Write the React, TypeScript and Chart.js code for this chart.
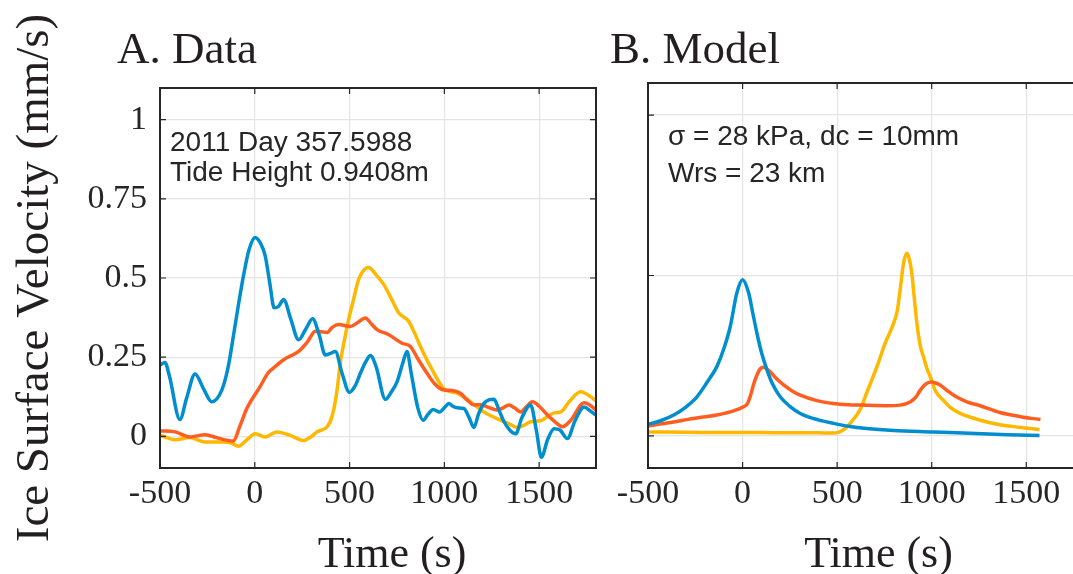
import React, { useEffect, useRef } from "react";
import { Chart, registerables } from "chart.js";

Chart.register(...registerables);

// ---------- axes ----------
const X_MIN = -500;
const X_MAX = 1800;
const Y_MIN = -0.1;
const Y_MAX = 1.1;
const X_TICKS = [-500, 0, 500, 1000, 1500];
const X_TICK_LABELS = ["-500", "0", "500", "1000", "1500"];
const Y_TICKS_A = [0, 0.25, 0.5, 0.75, 1];
const Y_TICK_LABELS_A = ["0", "0.25", "0.5", "0.75", "1"];
const Y_TICKS_B = [0, 0.5, 1];

// ---------- A. Data ----------
const dataBlueT = [-500, -474, -450, -395, -360, -315, -270, -227, -174, -140, -113, -85, -60, -30, 2, 30, 55, 80, 102, 125, 152, 190, 231, 270, 305, 340, 372, 400, 425, 460, 499, 530, 557, 585, 610, 640, 689, 720, 751, 780, 803, 825, 860, 888, 915, 941, 976, 1000, 1024, 1045, 1068, 1103, 1130, 1156, 1180, 1209, 1235, 1262, 1290, 1315, 1345, 1376, 1410, 1455, 1485, 1512, 1545, 1579, 1610, 1649, 1690, 1737, 1770, 1800];
const dataBlueV = [0.225, 0.233, 0.19, 0.053, 0.12, 0.197, 0.15, 0.109, 0.146, 0.22, 0.316, 0.42, 0.506, 0.59, 0.628, 0.61, 0.57, 0.48, 0.406, 0.41, 0.432, 0.37, 0.305, 0.34, 0.371, 0.32, 0.257, 0.262, 0.268, 0.2, 0.139, 0.16, 0.199, 0.235, 0.255, 0.22, 0.117, 0.14, 0.173, 0.23, 0.268, 0.2, 0.09, 0.051, 0.07, 0.085, 0.077, 0.09, 0.104, 0.095, 0.09, 0.088, 0.06, 0.028, 0.07, 0.104, 0.115, 0.117, 0.08, 0.046, 0.02, 0.008, 0.06, 0.099, 0.02, -0.066, -0.01, 0.024, 0.02, -0.007, 0.05, 0.093, 0.08, 0.067];

const dataOrangeT = [-500, -421, -342, -263, -201, -150, -113, -80, -42, 28, 70, 107, 152, 231, 280, 319, 350, 381, 410, 442, 504, 545, 583, 615, 645, 707, 777, 821, 860, 909, 950, 997, 1040, 1085, 1120, 1156, 1190, 1226, 1279, 1310, 1341, 1370, 1403, 1435, 1465, 1500, 1544, 1585, 1623, 1667, 1737, 1765, 1800];
const dataOrangeV = [0.017, 0.014, -0.002, 0.005, -0.004, -0.012, -0.015, 0.03, 0.088, 0.157, 0.2, 0.22, 0.242, 0.268, 0.3, 0.332, 0.33, 0.328, 0.345, 0.353, 0.347, 0.36, 0.374, 0.355, 0.337, 0.321, 0.294, 0.284, 0.245, 0.199, 0.165, 0.146, 0.145, 0.136, 0.115, 0.099, 0.1, 0.093, 0.083, 0.09, 0.099, 0.09, 0.077, 0.095, 0.109, 0.095, 0.067, 0.045, 0.03, 0.051, 0.106, 0.1, 0.083];

const dataYellowT = [-500, -460, -421, -342, -263, -166, -120, -86, -40, 2, 55, 116, 187, 257, 300, 328, 381, 400, 416, 435, 451, 475, 495, 520, 548, 575, 601, 640, 680, 720, 759, 812, 840, 874, 927, 997, 1068, 1100, 1138, 1209, 1297, 1340, 1385, 1420, 1455, 1508, 1550, 1579, 1614, 1660, 1719, 1760, 1800];
const dataYellowV = [0.003, -0.005, -0.011, -0.004, -0.018, -0.018, -0.022, -0.031, -0.01, 0.008, -0.002, 0.014, 0.003, -0.013, 0.0, 0.014, 0.03, 0.05, 0.083, 0.15, 0.231, 0.31, 0.369, 0.43, 0.496, 0.525, 0.533, 0.51, 0.48, 0.435, 0.39, 0.363, 0.33, 0.284, 0.22, 0.151, 0.136, 0.125, 0.109, 0.077, 0.051, 0.04, 0.028, 0.035, 0.046, 0.049, 0.065, 0.074, 0.077, 0.11, 0.141, 0.13, 0.112];

// ---------- B. Model ----------
const modelBlueT = [-500, -430, -364, -300, -241, -190, -136, -100, -65, -30, 0, 32, 55, 76, 100, 129, 160, 199, 250, 305, 400, 481, 560, 657, 800, 1009, 1200, 1400, 1570];
const modelBlueV = [0.036, 0.048, 0.065, 0.09, 0.122, 0.165, 0.216, 0.27, 0.341, 0.446, 0.487, 0.446, 0.38, 0.32, 0.26, 0.206, 0.16, 0.122, 0.092, 0.07, 0.05, 0.039, 0.03, 0.023, 0.017, 0.0125, 0.008, 0.004, 0.001];

const modelOrangeT = [-500, -400, -312, -220, -136, -90, -48, 5, 25, 40, 58, 76, 95, 111, 130, 146, 180, 217, 260, 305, 393, 481, 560, 622, 760, 833, 886, 915, 939, 965, 996, 1020, 1044, 1080, 1130, 1186, 1256, 1361, 1470, 1575];
const modelOrangeV = [0.031, 0.04, 0.049, 0.058, 0.065, 0.071, 0.078, 0.091, 0.1, 0.122, 0.16, 0.19, 0.21, 0.214, 0.208, 0.2, 0.178, 0.159, 0.141, 0.127, 0.11, 0.101, 0.097, 0.096, 0.094, 0.096, 0.106, 0.12, 0.142, 0.16, 0.168, 0.165, 0.159, 0.142, 0.122, 0.106, 0.094, 0.073, 0.06, 0.051];

const modelYellowT = [-500, -200, 100, 400, 481, 510, 540, 570, 600, 625, 660, 710, 754, 798, 818, 833, 851, 869, 882, 895, 908, 922, 940, 957, 975, 996, 1020, 1062, 1100, 1151, 1256, 1361, 1460, 1570];
const modelYellowV = [0.0125, 0.011, 0.0104, 0.0095, 0.009, 0.012, 0.022, 0.04, 0.062, 0.086, 0.14, 0.215, 0.289, 0.35, 0.39, 0.454, 0.538, 0.569, 0.55, 0.506, 0.43, 0.35, 0.28, 0.246, 0.21, 0.179, 0.14, 0.111, 0.088, 0.07, 0.049, 0.035, 0.027, 0.02];

// ---------- styles ----------
const BLUE = "#008ECE";
const ORANGE = "#FF5E20";
const YELLOW = "#FFB800";
const INK = "#262626";
const GRID = "#e4e4e4";
const SERIF = "'Liberation Serif', 'Times New Roman', serif";
const SANS = "'Liberation Sans', Arial, sans-serif";

type Series = { t: number[]; v: number[]; color: string };

const framePlugin = {
  id: "frame",
  afterDraw(chart: any, _args: any, o: any) {
    const { ctx, chartArea: a, scales } = chart;
    ctx.save();
    // inward tick marks on all four sides
    ctx.strokeStyle = INK;
    ctx.lineWidth = 1.2;
    const tl = 6;
    ctx.beginPath();
    scales.x.ticks.forEach((t: any) => {
      const px = scales.x.getPixelForValue(t.value);
      ctx.moveTo(px, a.bottom);
      ctx.lineTo(px, a.bottom - tl);
      ctx.moveTo(px, a.top);
      ctx.lineTo(px, a.top + tl);
    });
    scales.y.ticks.forEach((t: any) => {
      const py = scales.y.getPixelForValue(t.value);
      ctx.moveTo(a.left, py);
      ctx.lineTo(a.left + tl, py);
      ctx.moveTo(a.right, py);
      ctx.lineTo(a.right - tl, py);
    });
    ctx.stroke();
    // box
    ctx.lineWidth = 2;
    ctx.strokeRect(a.left, a.top, a.right - a.left, a.bottom - a.top);

    ctx.fillStyle = "#231f20";
    ctx.textBaseline = "alphabetic";
    // panel title
    ctx.font = `45px ${SERIF}`;
    ctx.textAlign = "left";
    ctx.fillText(o.title, a.left + o.titleDx, a.top + o.titleDy);
    // annotation
    ctx.fillStyle = INK;
    ctx.font = `28px ${SANS}`;
    o.notes.forEach((n: string, i: number) => {
      ctx.fillText(n, a.left + o.notesDx, a.top + o.notesDy[i]);
    });
    // x axis title
    ctx.fillStyle = "#231f20";
    ctx.font = `44px ${SERIF}`;
    ctx.textAlign = "center";
    ctx.fillText(o.xTitle, (a.left + a.right) / 2 + o.xTitleDx, a.bottom + o.xTitleDy);
    ctx.restore();
  },
};

function buildConfig(p: {
  series: Series[];
  yTicks: number[];
  yLabels: string[] | null;
  yWidth: number;
  padTop: number;
  padRight: number;
  yTitle: string | null;
  frame: any;
}) {
  return {
    type: "line" as const,
    data: {
      datasets: p.series.map((s) => ({
        data: s.t.map((t, i) => ({ x: t, y: s.v[i] })),
        borderColor: s.color,
        backgroundColor: s.color,
        borderWidth: 3.5,
        pointRadius: 0,
        fill: false,
        cubicInterpolationMode: "monotone" as const,
      })),
    },
    options: {
      responsive: false,
      animation: false as const,
      devicePixelRatio: 1,
      layout: { padding: { left: 0, right: p.padRight, top: p.padTop, bottom: 0 } },
      plugins: {
        legend: { display: false },
        tooltip: { enabled: false },
        frame: p.frame,
      },
      scales: {
        x: {
          type: "linear" as const,
          min: X_MIN,
          max: X_MAX,
          afterBuildTicks: (s: any) => {
            s.ticks = X_TICKS.map((v) => ({ value: v }));
          },
          afterFit: (s: any) => {
            s.height = 106;
          },
          ticks: {
            autoSkip: false,
            maxRotation: 0,
            padding: 6,
            color: INK,
            font: { family: SERIF, size: 34 },
            callback: (v: any) => X_TICK_LABELS[X_TICKS.indexOf(Number(v))] ?? "",
          },
          grid: { color: GRID, lineWidth: 1.2, drawTicks: false },
          border: { display: false },
        },
        y: {
          type: "linear" as const,
          min: Y_MIN,
          max: Y_MAX,
          afterBuildTicks: (s: any) => {
            s.ticks = p.yTicks.map((v) => ({ value: v }));
          },
          afterFit: (s: any) => {
            s.width = p.yWidth;
          },
          ticks: {
            display: !!p.yLabels,
            padding: 13,
            color: INK,
            font: { family: SERIF, size: 34 },
            callback: (v: any) => (p.yLabels ? p.yLabels[p.yTicks.indexOf(Number(v))] ?? "" : ""),
          },
          title: {
            display: !!p.yTitle,
            text: p.yTitle ?? "",
            color: "#231f20",
            font: { family: SERIF, size: 47, lineHeight: 1 },
            padding: { top: 12, bottom: 0 },
          },
          grid: { color: GRID, lineWidth: 1.2, drawTicks: false },
          border: { display: false },
        },
      },
    },
    plugins: [framePlugin],
  };
}

export default function App() {
  const leftRef = useRef<HTMLCanvasElement | null>(null);
  const rightRef = useRef<HTMLCanvasElement | null>(null);

  useEffect(() => {
    const left = new Chart(
      leftRef.current as HTMLCanvasElement,
      buildConfig({
        series: [
          { t: dataBlueT, v: dataBlueV, color: BLUE },
          { t: dataOrangeT, v: dataOrangeV, color: ORANGE },
          { t: dataYellowT, v: dataYellowV, color: YELLOW },
        ],
        yTicks: Y_TICKS_A,
        yLabels: Y_TICK_LABELS_A,
        yWidth: 160,
        padTop: 88,
        padRight: 14,
        yTitle: "Ice Surface Velocity (mm/s)",
        frame: {
          title: "A. Data",
          titleDx: -43,
          titleDy: -25,
          notes: ["2011 Day 357.5988", "Tide Height 0.9408m"],
          notesDx: 10,
          notesDy: [63, 93],
          xTitle: "Time (s)",
          xTitleDx: 14,
          xTitleDy: 99,
        },
      }) as any
    );
    const right = new Chart(
      rightRef.current as HTMLCanvasElement,
      buildConfig({
        series: [
          { t: modelBlueT, v: modelBlueV, color: BLUE },
          { t: modelOrangeT, v: modelOrangeV, color: ORANGE },
          { t: modelYellowT, v: modelYellowV, color: YELLOW },
        ],
        yTicks: Y_TICKS_B,
        yLabels: null,
        yWidth: 48,
        padTop: 83,
        padRight: 17,
        yTitle: null,
        frame: {
          title: "B. Model",
          titleDx: -38,
          titleDy: -20,
          notes: ["σ = 28 kPa, dc = 10mm", "Wrs = 23 km"],
          notesDx: 20,
          notesDy: [62, 99],
          xTitle: "Time (s)",
          xTitleDx: 13,
          xTitleDy: 99,
        },
      }) as any
    );
    return () => {
      left.destroy();
      right.destroy();
    };
  }, []);

  return (
    <div
      style={{
        position: "absolute",
        left: 0,
        top: 0,
        width: 1073,
        height: 574,
        overflow: "hidden",
        background: "#ffffff",
      }}
    >
      <canvas
        ref={leftRef}
        width={610}
        height={574}
        style={{ position: "absolute", left: 0, top: 0, width: 610, height: 574 }}
      />
      <canvas
        ref={rightRef}
        width={500}
        height={574}
        style={{ position: "absolute", left: 600, top: 0, width: 500, height: 574 }}
      />
    </div>
  );
}
